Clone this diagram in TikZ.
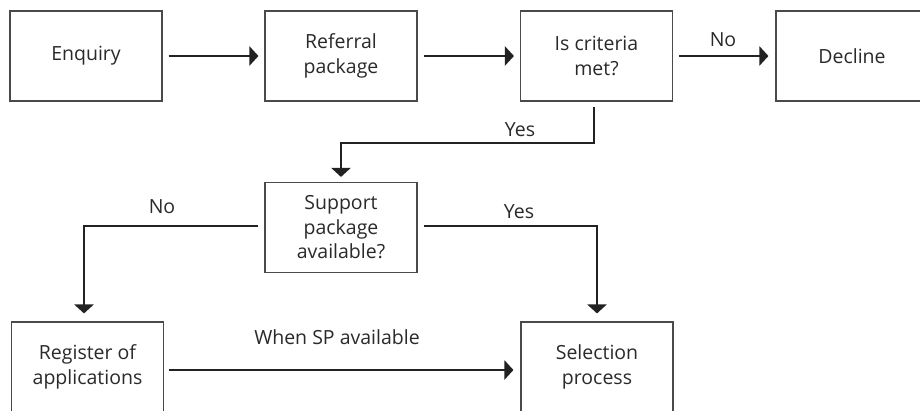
\documentclass[tikz,border=0pt]{standalone}
\usepackage{fontspec}
\setmainfont{Open Sans}
\usetikzlibrary{arrows.meta}
\definecolor{txt}{HTML}{2A2A2A}
\definecolor{brd}{HTML}{4A4A4A}
\definecolor{arr}{HTML}{222222}
\tikzset{
  box/.style={draw=brd, line width=1.1pt, minimum width=152pt, minimum height=90pt,
    inner sep=0pt, align=center, text=txt, font=\fontsize{19.5}{24.5}\selectfont},
  flow/.style={draw=arr, line width=2.2pt, -{Triangle[length=9pt,width=19pt]}},
  lbl/.style={text=txt, font=\fontsize{19.5}{24.5}\selectfont, inner sep=0pt},
}
\begin{document}
\begin{tikzpicture}[x=1pt,y=-1pt]
\useasboundingbox (0,0) rectangle (920,410);
\clip (0,0) rectangle (920,410);
\fill[white] (0,0) rectangle (920,410);
\node[box] (enq) at (86,56) {Enquiry};
\node[box] (ref) at (341,56) {Referral\\package};
\node[box] (crit) at (596.5,56) {Is criteria\\met?};
\node[box] (dec) at (852,56) {Decline};
\node[box] (sup) at (341,227.5) {Support\\package\\available?};
\node[box] (reg) at (87.5,367) {Register of\\applications};
\node[box] (sel) at (597,367) {Selection\\process};

\draw[flow, shorten <=6pt, shorten >=6pt] (enq) -- (ref);
\draw[flow, shorten <=6pt, shorten >=6pt] (ref) -- (crit);
\draw[flow, shorten <=6pt, shorten >=7pt] (crit) -- (dec);
\coordinate (y1) at (594,143);
\coordinate (y2) at (341,143);
\draw[flow, shorten <=5pt, shorten >=5pt] (crit.south -| y1) -- (y1) -- (y2) -- (sup.north);
\coordinate (n1) at (84,226);
\draw[flow, shorten <=6pt, shorten >=8pt] (sup.west |- n1) -- (n1) -- (n1 |- reg.north);
\coordinate (s1) at (597,226);
\draw[flow, shorten <=6pt, shorten >=8pt] (sup.east |- s1) -- (s1) -- (sel.north);
\coordinate (w1) at (163,370);
\draw[flow, shorten <=5pt, shorten >=7pt] (reg.east |- w1) -- (sel.west |- w1);

\node[lbl] (lno1) at (723,40) {No};
\node[lbl] (lyes1) at (520,130) {Yes};
\node[lbl] (lno2) at (162,207) {No};
\node[lbl] (lyes2) at (519,212) {Yes};
\node[lbl] (lwsp) at (337,337) {When SP available};
\end{tikzpicture}
\end{document}
